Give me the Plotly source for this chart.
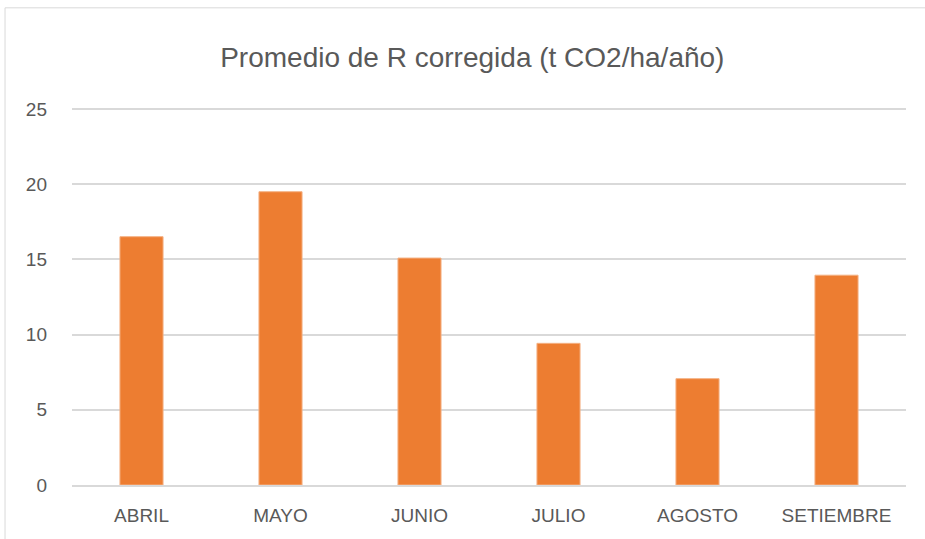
import plotly.graph_objects as go

meses = ["ABRIL", "MAYO", "JUNIO", "JULIO", "AGOSTO", "SETIEMBRE"]
r_corregida = [16.51, 19.5, 15.09, 9.42, 7.07, 13.95]
y_ticks = [0, 5, 10, 15, 20, 25]

fig = go.Figure()
fig.add_trace(go.Bar(
    x=meses, y=r_corregida,
    marker=dict(color="#ED7D31", line=dict(color="#F4B183", width=1)),
    width=0.31,
))

# outer chart frame (Excel style, clipped by the window)
fig.add_shape(type="rect", xref="paper", yref="paper",
              x0=-0.0803, x1=1.2, y0=-0.3, y1=1.259,
              line=dict(color="#D9D9D9", width=1), layer="below")

fig.update_layout(
    width=925, height=539,
    margin=dict(l=72, r=19, t=106, b=54),
    paper_bgcolor="white", plot_bgcolor="white",
    font=dict(family="Liberation Sans, Arial, sans-serif", color="#595959"),
    title=dict(text="Promedio de R corregida (t CO2/ha/año)",
               x=0.48, xref="paper", xanchor="center",
               y=0.894, yref="container", yanchor="middle",
               font=dict(size=28, color="#595959")),
    showlegend=False,
    bargap=0.69,
)
fig.update_xaxes(showline=True, linecolor="#D9D9D9", linewidth=1.5,
                 tickfont=dict(size=19, color="#595959"),
                 ticks="", ticklabelstandoff=12)
fig.update_yaxes(range=[0, 25.2], tickvals=y_ticks,
                 showgrid=True, gridcolor="#D9D9D9", gridwidth=1.5,
                 zeroline=False, showline=False,
                 tickfont=dict(size=19, color="#595959"),
                 ticks="", ticklabelstandoff=24)

# page body margin would shift the figure by 8px
fig.write_html("out.html", config={"displayModeBar": False},
               post_script="document.body.style.margin='0';")
